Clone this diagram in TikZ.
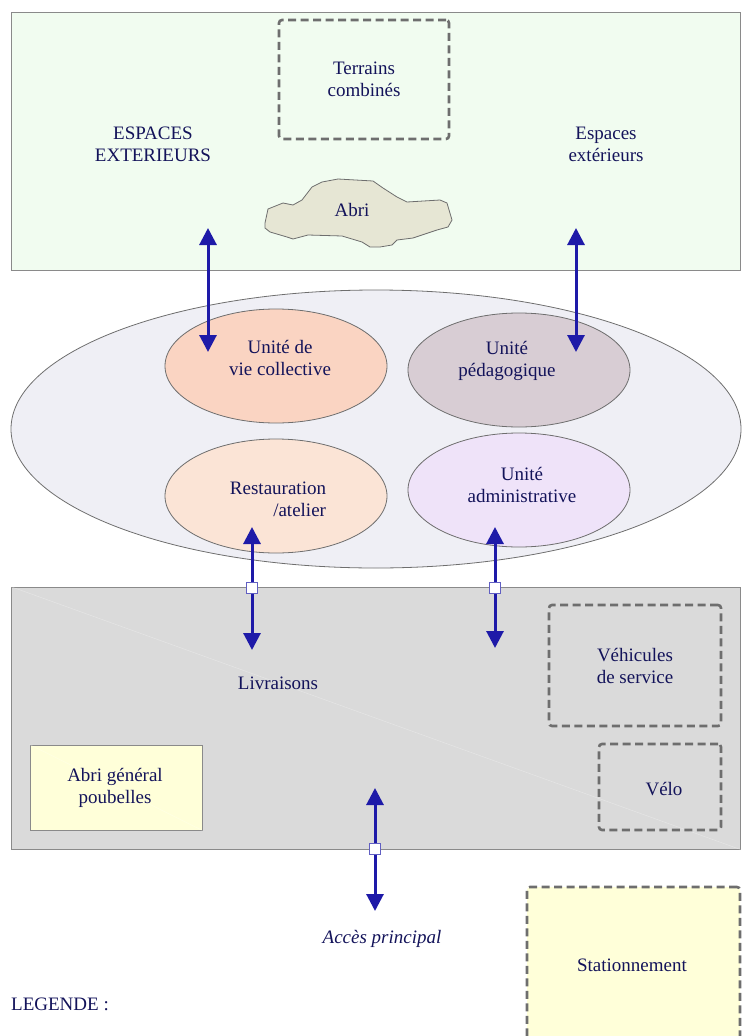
\documentclass[tikz,border=0pt]{standalone}
\usepackage{fontspec}
\setmainfont{Liberation Serif}
\usetikzlibrary{arrows.meta,shapes.geometric}

\definecolor{ink}{HTML}{13135A}
\definecolor{outdoor}{HTML}{F1FCF0}
\definecolor{shelter}{HTML}{E6E6D4}
\definecolor{campus}{HTML}{EFEFF5}
\definecolor{living}{HTML}{FAD4C2}
\definecolor{teaching}{HTML}{D8CDD4}
\definecolor{kitchen}{HTML}{FBE4D6}
\definecolor{office}{HTML}{EFE3F9}
\definecolor{service}{HTML}{DADADA}
\definecolor{paleyellow}{HTML}{FFFFD9}
\definecolor{dashgray}{HTML}{6E6E6E}
\definecolor{flow}{HTML}{1E1AA8}
\definecolor{edge}{HTML}{8A8A8A}

\tikzset{
  txt/.style={text=ink, font=\fontsize{19}{22}\selectfont, align=center, inner sep=0pt},
  zone/.style={draw=edge, line width=1pt, inner sep=0pt},
  dashbox/.style={draw=dashgray, line width=2.6pt, dash pattern=on 8pt off 4.5pt,
                  rounded corners=3pt, inner sep=0pt, txt},
  unit/.style={ellipse, draw=edge!80!black, line width=0.8pt, inner sep=0pt,
               minimum width=222pt, minimum height=114pt, txt},
  link/.style={draw=flow, line width=3pt,
               {Triangle[width=17pt,length=17pt]}-{Triangle[width=17pt,length=17pt]}},
  gate/.style={draw=flow!70!white, fill=white, line width=1pt, minimum size=11pt,
               inner sep=0pt},
  sheen/.style={white, line width=0.5pt, opacity=0.3}
}

\begin{document}
\begin{tikzpicture}[x=1pt,y=-1pt]
\useasboundingbox (0,0) rectangle (742,1036);

% outdoor zone
\node[zone, fill=outdoor, minimum width=729pt, minimum height=258pt] (outside) at (375.5,141) {};
\node[dashbox, minimum width=170pt, minimum height=119pt] (terrains) at (364,79.5) {Terrains\\combinés};
\node[txt] (espL) at (153,144) {ESPACES\\EXTERIEURS};
\node[txt] (espR) at (606,144) {Espaces\\extérieurs};

% shelter outline
\draw[draw=edge!80!black, line width=0.8pt, fill=shelter]
  (265,223) -- (268,209) -- (283,203) -- (293,205) -- (302,200) -- (312,187)
  -- (322,182) -- (338,179) -- (373,181) -- (383,188) -- (397,197) -- (407,202)
  -- (440,200) -- (447,203) -- (452,220) -- (448,227) -- (437,230) -- (413,238)
  -- (397,240) -- (392,245) -- (380,247) -- (370,247) -- (362,242) -- (342,236)
  -- (308,235) -- (293,239) -- (287,237) -- (270,232) -- (265,228) -- cycle;
\node[txt] (abri) at (352,210) {Abri};

% building units
\node[ellipse, draw=edge!80!black, line width=0.8pt, fill=campus, inner sep=0pt,
      minimum width=730pt, minimum height=278pt] (building) at (376,429) {};
\node[unit, fill=living] (vie) at (276,366) {};
\node[txt] (vieT) at (280,358) {Unité de\\vie collective};
\node[unit, fill=teaching] (peda) at (519,370) {};
\node[txt] (pedaT) at (507,361) {Unité\\pédagogique};
\node[unit, fill=kitchen] (resto) at (276,496) {};
\node[txt, align=right] (restoT) at (278,499) {Restauration\\/atelier};
\node[unit, fill=office] (admin) at (519,490) {};
\node[txt] (adminT) at (522,485) {Unité\\administrative};

% service yard
\node[zone, fill=service, minimum width=729pt, minimum height=262pt] (yard) at (375.5,718) {};
\draw[sheen] (yard.north west) -- (yard.south east);
\node[txt] (livr) at (278,683) {Livraisons};
\node[dashbox, minimum width=172pt, minimum height=121pt] (vehic) at (635,665.5) {Véhicules\\de service};
\node[dashbox, minimum width=122pt, minimum height=86pt] (velo) at (660,787) {};
\node[txt] (veloT) at (664,789) {Vélo};
\node[zone, fill=paleyellow, minimum width=172pt, minimum height=85pt] (poub) at (116,787.5) {};
\draw[sheen] (poub.north west) -- (poub.south east);
\node[txt] (poubT) at (115,788) {Abri général\\poubelles};

% entrance and parking
\node[txt, font=\fontsize{19}{22}\selectfont\itshape] (acces) at (382,939) {Accès principal};
\node[dashbox, fill=paleyellow, minimum width=213pt, minimum height=160pt] (parking) at (633.5,967) {};
\node[txt] (parkT) at (632,965) {Stationnement};
\node[txt, anchor=west] (legende) at (11,1004) {LEGENDE :};

% flows
\coordinate (f1a) at (208,228); \coordinate (f1b) at (208,352);
\coordinate (f2a) at (576,228); \coordinate (f2b) at (576,352);
\coordinate (f3a) at (252,527); \coordinate (f3b) at (252,650);
\coordinate (f4a) at (495,527); \coordinate (f4b) at (495,648);
\coordinate (f5a) at (375,788); \coordinate (f5b) at (375,911);
\draw[link] (f1a) -- (f1b);
\draw[link] (f2a) -- (f2b);
\draw[link] (f3a) -- (f3b);
\draw[link] (f4a) -- (f4b);
\draw[link] (f5a) -- (f5b);
\node[gate] (g3) at (252,588) {};
\node[gate] (g4) at (495,588) {};
\node[gate] (g5) at (375,849) {};
\end{tikzpicture}
\end{document}
